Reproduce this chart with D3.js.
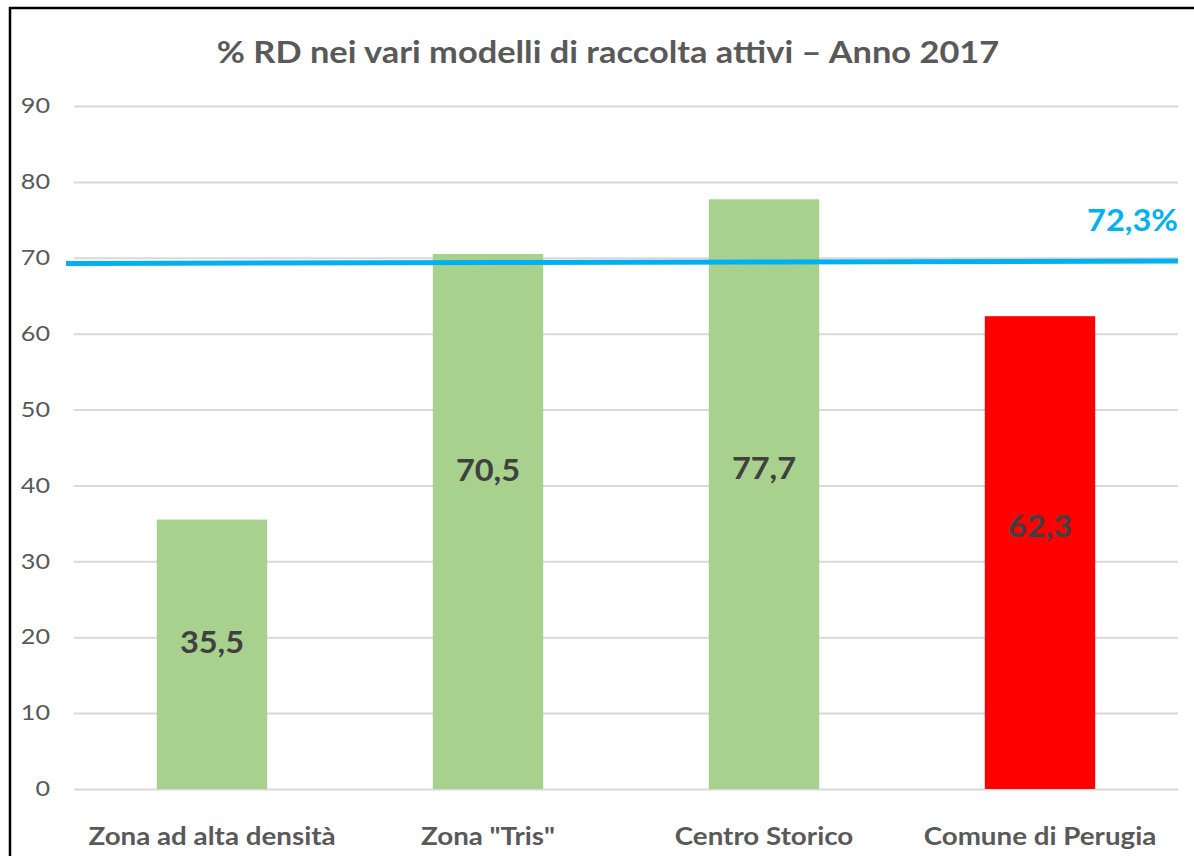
<!DOCTYPE html>
<html lang="it">
<head>
<meta charset="UTF-8">
<title>% RD nei vari modelli di raccolta attivi</title>
<script src="https://cdn.jsdelivr.net/npm/d3@7/dist/d3.min.js"></script>
<style>
  body { margin: 0; background: #fff; }
  svg { display: block; font-family: Lato, "Open Sans", sans-serif; }
</style>
</head>
<body>
<svg width="1194" height="856"></svg>
<script>
  // dati
  var categories = ['Zona ad alta densità', 'Zona "Tris"', 'Centro Storico', 'Comune di Perugia']
  var values = [35.5, 70.5, 77.7, 62.3]
  var barColors = ['#A9D18E', '#A9D18E', '#A9D18E', '#FF0000']
  var labelAt = [19.4, 42.0, 42.3, 34.6]   // posizione etichette (valori asse)
  var yTicks = [0, 10, 20, 30, 40, 50, 60, 70, 80, 90]
  var refLine = [69.25, 69.57]             // linea azzurra (inizio, fine)
  var refLabel = '72,3%'

  // il grafico originale è leggermente allargato in orizzontale
  var sx = 1.11

  var svg = d3.select('svg')

  // cornice
  svg.append('path')
    .attr('d', 'M10,856 V8 H1194')
    .attr('fill', 'none')
    .attr('stroke', '#000')
    .attr('stroke-width', 2.5)

  var x = d3.scaleBand().domain(categories).range([74, 1178]).paddingInner(0.6).paddingOuter(0.3)
  var y = d3.scaleLinear().domain([0, 90]).range([789, 106])

  // titolo
  svg.append('text')
    .attr('transform', 'translate(608,63) scale(' + sx + ',1)')
    .attr('text-anchor', 'middle')
    .attr('font-size', 31).attr('font-weight', 'bold')
    .attr('fill', '#595959')
    .text('% RD nei vari modelli di raccolta attivi – Anno 2017')

  // griglia + asse y
  var yAxis = svg.append('g').attr('transform', 'translate(74,0)')
    .call(d3.axisLeft(y).tickValues(yTicks).tickSize(-1104).tickPadding(24))
  yAxis.select('.domain').remove()
  yAxis.selectAll('.tick line').attr('stroke', '#D9D9D9').attr('stroke-width', 2)
  yAxis.selectAll('.tick text').attr('fill', '#595959').attr('font-size', 21)
    .attr('font-family', 'Lato, sans-serif')
    .attr('x', -24 / 1.2)
    .attr('transform', 'scale(1.2,1)')

  // barre
  svg.selectAll('rect.bar').data(values).enter()
    .append('rect')
    .attr('class', 'bar')
    .attr('x', (v, i) => x(categories[i]))
    .attr('width', x.bandwidth())
    .attr('y', v => y(v))
    .attr('height', v => y(0) - y(v))
    .attr('fill', (v, i) => barColors[i])

  // etichette valori
  svg.selectAll('text.val').data(values).enter()
    .append('text')
    .attr('class', 'val')
    .attr('transform', (v, i) => 'translate(' + (x(categories[i]) + x.bandwidth() / 2) + ',' + y(labelAt[i]) + ') scale(1.05,1)')
    .attr('dy', '0.35em')
    .attr('text-anchor', 'middle')
    .attr('font-size', 31).attr('font-weight', 'bold')
    .attr('fill', '#404040')
    .text(v => String(v).replace('.', ','))

  // asse x
  var xAxis = svg.append('g').attr('transform', 'translate(0,789)')
    .call(d3.axisBottom(x).tickSize(0).tickPadding(38))
  xAxis.select('.domain').remove()
  xAxis.selectAll('.tick text').attr('fill', '#595959').attr('font-size', 25)
    .attr('font-weight', 'bold').attr('font-family', 'Lato, sans-serif')
    .attr('transform', 'scale(' + sx + ',1)')

  // linea di riferimento
  svg.append('line')
    .attr('x1', 66).attr('x2', 1178)
    .attr('y1', y(refLine[0])).attr('y2', y(refLine[1]))
    .attr('stroke', '#00B0F0')
    .attr('stroke-width', 5)

  svg.append('text')
    .attr('transform', 'translate(1178,231) scale(1.05,1)')
    .attr('text-anchor', 'end')
    .attr('font-size', 31).attr('font-weight', 'bold')
    .attr('fill', '#00B0F0')
    .text(refLabel)
</script>
</body>
</html>
